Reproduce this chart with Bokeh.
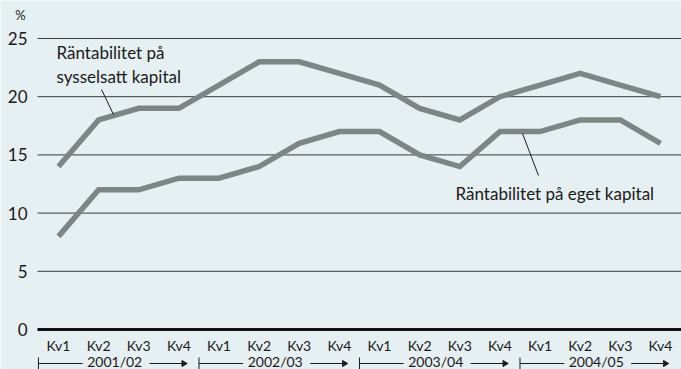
import math
from bokeh.plotting import figure
from bokeh.models import Range1d
from bokeh.core.properties import value
from bokeh.embed import file_html
from bokeh.resources import INLINE

# ---- data ----
quarters = ["Kv1", "Kv2", "Kv3", "Kv4"] * 4
years = ["2001/02", "2002/03", "2003/04", "2004/05"]
sysselsatt = [14, 18, 19, 19, 21, 23, 23, 22, 21, 19, 18, 20, 21, 22, 21, 20]
eget = [8, 12, 12, 13, 13, 14, 16, 17, 17, 15, 14, 17, 17, 18, 18, 16]
yticks = [0, 5, 10, 15, 20, 25]
ytick_labels = ["0", "5", "10", "15", "20", "25"]

# ---- layout helpers (pixel geometry) ----
W, H = 681, 369
X0PX, DXPX = 58.0, 40.13     # pixel of first quarter, pixels per quarter
Y0PX, DYPX = 329.0, 11.64    # pixel of y=0, pixels per unit


def px(x):
    return (x - X0PX) / DXPX


def py(y):
    return (Y0PX - y) / DYPX


FONT = value("Lato")
BG = "#e6eff2"
LINE = "#7d8585"
TXT = "#1a1a1a"

p = figure(width=W, height=H, output_backend="svg", toolbar_location=None,
           x_range=Range1d(px(0), px(W)), y_range=Range1d(py(H), py(0)),
           min_border=0, background_fill_color=BG, border_fill_color=BG)
p.axis.visible = False
p.grid.visible = False
p.outline_line_color = None

xs = list(range(len(quarters)))

# gridlines
grid_y = [t for t in yticks if t != 0]
p.segment(x0=[px(37)] * len(grid_y), x1=[px(W)] * len(grid_y), y0=grid_y, y1=grid_y,
          line_color="#3a3a3a", line_width=1)
# zero axis
p.segment(x0=[px(37)], x1=[px(W)], y0=[0], y1=[0], line_color="#111111", line_width=3)

# y tick labels
p.text(x=[px(27)] * len(yticks), y=yticks, text=ytick_labels, text_align="right",
       text_baseline="middle", text_font=FONT, text_font_size="17px", text_color=TXT)
p.text(x=[px(20)], y=[py(14)], text=["%"], text_align="center", text_baseline="middle",
       text_font=FONT, text_font_size="13px", text_color=TXT)

# series
p.line(xs, sysselsatt, line_color=LINE, line_width=5.5, line_join="miter")
p.line(xs, eget, line_color=LINE, line_width=5.5, line_join="miter")

# quarter labels
p.text(x=xs, y=[py(345)] * len(xs), text=quarters, text_align="center",
       text_baseline="middle", text_font=FONT, text_font_size="14px", text_color=TXT)

# year brackets
ystart = [4 * i - 0.5 for i in range(len(years))]
line_y = py(363)
p.segment(x0=ystart, x1=ystart, y0=[py(357)] * 4, y1=[py(372)] * 4,
          line_color=TXT, line_width=1)
p.segment(x0=ystart, x1=[s + 1.1 for s in ystart], y0=[line_y] * 4, y1=[line_y] * 4,
          line_color=TXT, line_width=1)
p.text(x=[s + 1.9 for s in ystart], y=[py(361)] * 4, text=years, text_align="center",
       text_baseline="middle", text_font=FONT, text_font_size="14px", text_color=TXT)
p.segment(x0=[s + 2.77 for s in ystart], x1=[s + 3.62 for s in ystart],
          y0=[line_y] * 4, y1=[line_y] * 4, line_color=TXT, line_width=1)
p.scatter(x=[s + 3.62 for s in ystart], y=[line_y] * 4, marker="triangle", size=6,
          angle=-math.pi / 2, fill_color=TXT, line_color=TXT)

# annotations
p.text(x=[px(56), px(56)], y=[py(52), py(76)],
       text=["Räntabilitet på", "sysselsatt kapital"], text_align="left",
       text_baseline="middle", text_font=FONT, text_font_size="17px", text_color=TXT)
p.segment(x0=[px(101)], y0=[py(89)], x1=[px(113)], y1=[py(114)], line_color=TXT, line_width=1)

p.text(x=[px(455)], y=[py(193)], text=["Räntabilitet på eget kapital"], text_align="left",
       text_baseline="middle", text_font=FONT, text_font_size="17px", text_color=TXT)
p.segment(x0=[px(522)], y0=[py(133)], x1=[px(538)], y1=[py(175)], line_color=TXT, line_width=1)

open("out.html", "w").write(file_html(p, INLINE))
